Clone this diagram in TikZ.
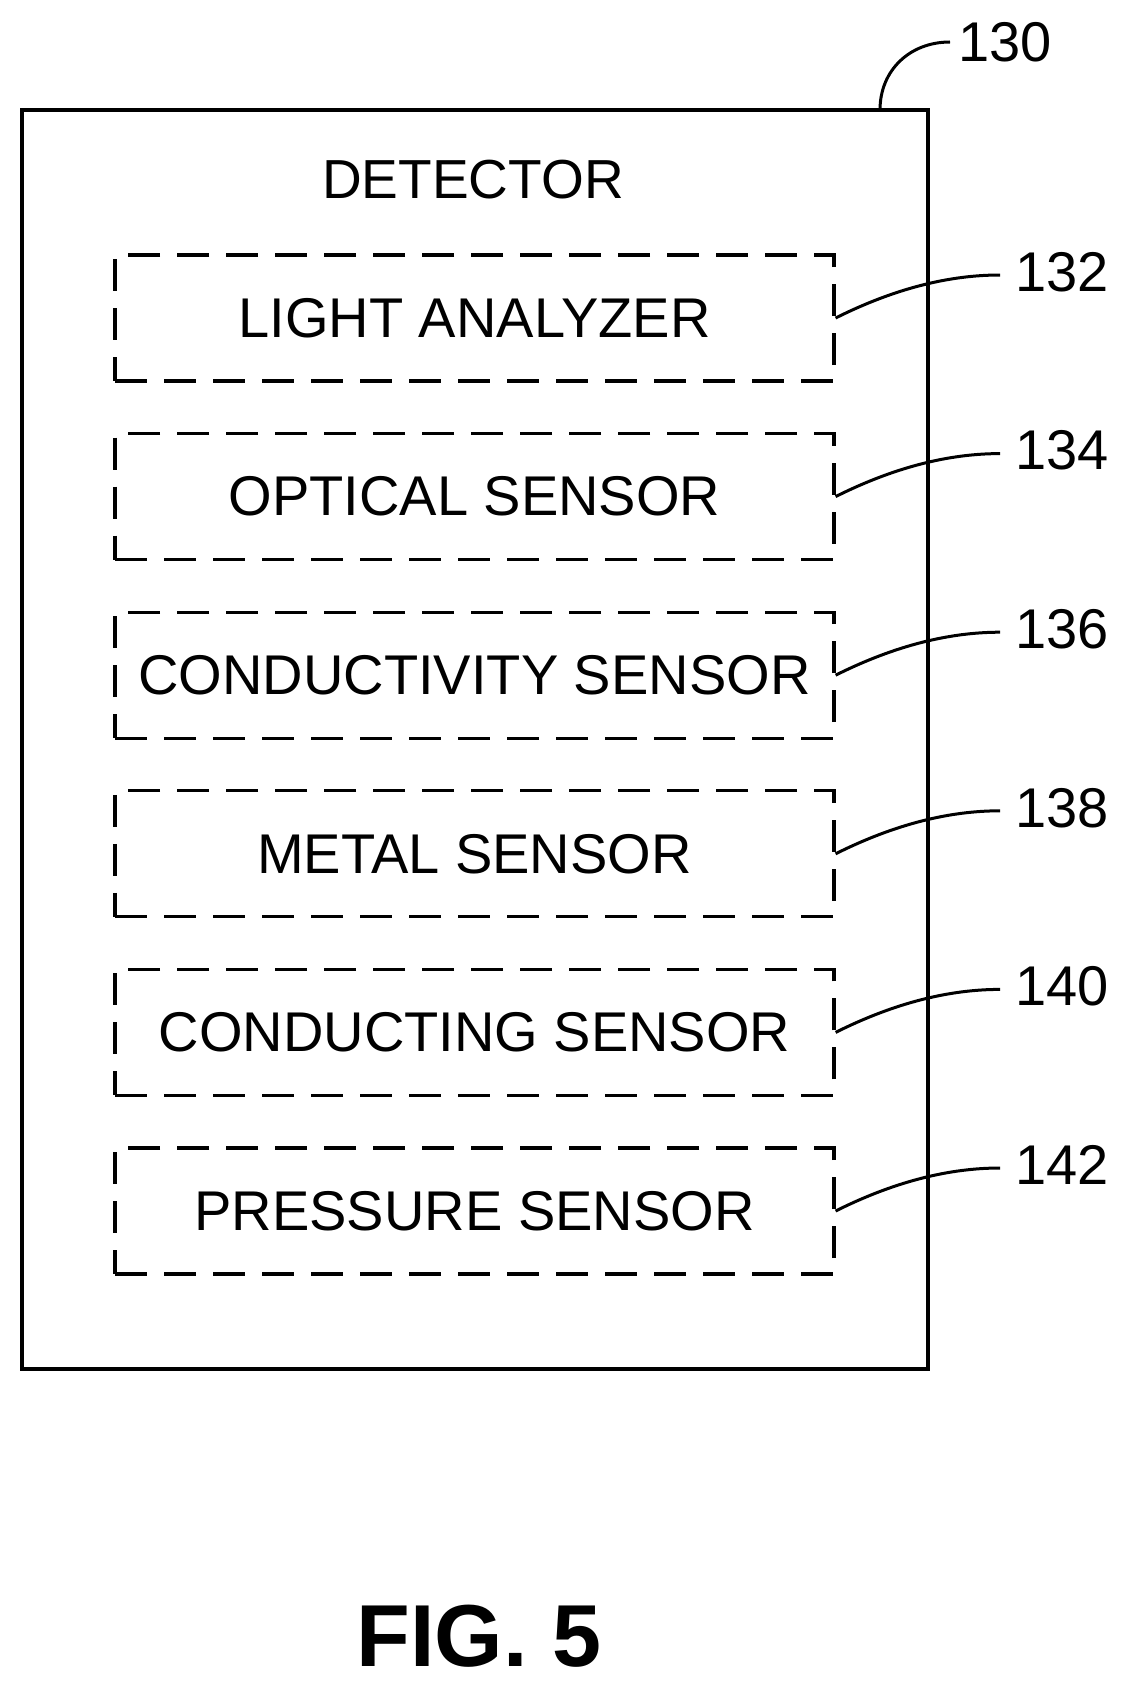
\documentclass[tikz,border=0pt]{standalone}
\usepackage{fontspec}
\setmainfont{Liberation Sans}
\begin{document}
\begin{tikzpicture}[x=1pt,y=-1pt,
  sub/.style={draw,dash pattern=on 32pt off 17pt,line width=3.2pt,minimum width=719pt,minimum height=126pt,inner sep=0pt,font=\fontsize{56}{60}\selectfont},
  lbl/.style={font=\fontsize{56}{60}\selectfont,anchor=west,inner sep=0pt},
  lead/.style={line width=3pt}]
\useasboundingbox (0,0) rectangle (1130,1699);
\node[draw,line width=4pt,minimum width=906pt,minimum height=1259pt,inner sep=0pt] (det) at (474.5,739.5) {};
\node[font=\fontsize{55}{60}\selectfont] (dt) at (473,180) {DETECTOR};
\foreach \i/\t/\n in {0/LIGHT ANALYZER/132,1/OPTICAL SENSOR/134,2/CONDUCTIVITY SENSOR/136,3/METAL SENSOR/138,4/CONDUCTING SENSOR/140,5/PRESSURE SENSOR/142}{
  \node[sub] (b\n) at (474.5,{318+178.6*\i}) {\t};
  \node[lbl] (l\n) at (1015,{272+178.6*\i}) {\n};
  \coordinate (e\n) at (1000,{275+178.6*\i});
  \draw[lead] (b\n.east) .. controls +(60,-30) and +(-50,0) .. (e\n);
}
\node[lbl] (l130) at (958,42) {130};
\coordinate (c130) at (950,42);
\draw[lead] (880,110) .. controls (880,70) and (910,42) .. (c130);
\node[font=\bfseries\fontsize{88}{96}\selectfont] (fig) at (479,1636) {FIG. 5};
\end{tikzpicture}
\end{document}
